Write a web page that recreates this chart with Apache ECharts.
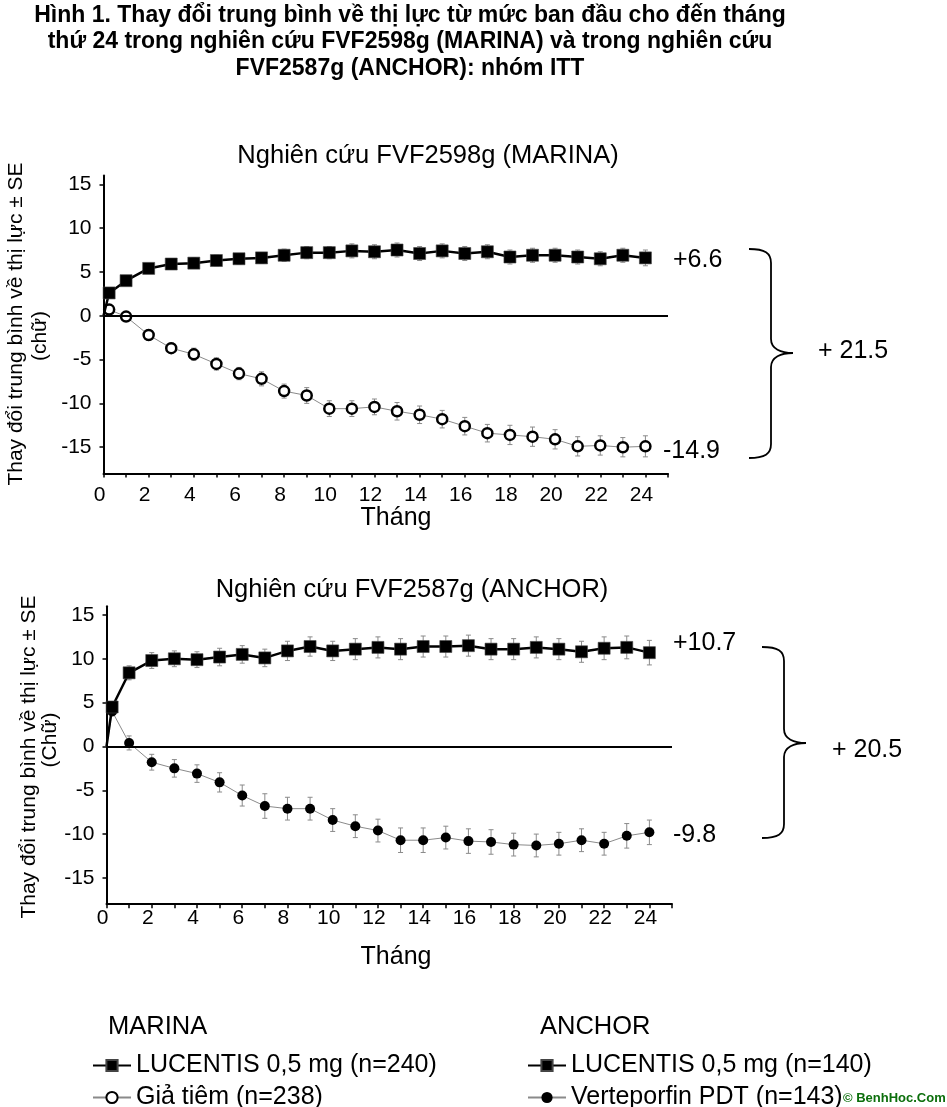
<!DOCTYPE html>
<html>
<head>
<meta charset="utf-8">
<script src="https://cdn.jsdelivr.net/npm/echarts@6/dist/echarts.min.js"></script>
<style>
  html, body { margin: 0; padding: 0; background: #fff; }
  #main { width: 947px; height: 1107px; }
</style>
</head>
<body>
<div id="main"></div>
<script>
// thời điểm đo (tháng): tuần 1 rồi từng tháng
var months = [0.25, 1, 2, 3, 4, 5, 6, 7, 8, 9, 10, 11, 12, 13, 14, 15, 16, 17, 18, 19, 20, 21, 22, 23, 24]

// MARINA
var marinaLucentis = [2.6, 4.0, 5.4, 5.9, 6.0, 6.3, 6.5, 6.6, 6.9, 7.2, 7.2, 7.4, 7.3, 7.5, 7.1, 7.4, 7.1, 7.3, 6.7, 6.9, 6.9, 6.7, 6.5, 6.9, 6.6]
var marinaLucentisSE = [0.4, 0.5, 0.5, 0.5, 0.6, 0.6, 0.6, 0.6, 0.7, 0.7, 0.7, 0.8, 0.8, 0.8, 0.8, 0.8, 0.8, 0.8, 0.8, 0.8, 0.8, 0.8, 0.8, 0.8, 0.9]
var marinaSham = [0.7, -0.1, -2.2, -3.7, -4.4, -5.5, -6.6, -7.2, -8.6, -9.1, -10.6, -10.6, -10.4, -10.9, -11.3, -11.8, -12.6, -13.4, -13.6, -13.8, -14.1, -14.9, -14.8, -15.0, -14.9]
var marinaShamSE = [0.4, 0.4, 0.6, 0.6, 0.7, 0.7, 0.7, 0.8, 0.8, 0.9, 0.9, 0.9, 0.9, 1.0, 1.0, 1.0, 1.0, 1.0, 1.1, 1.1, 1.1, 1.1, 1.1, 1.1, 1.2]

// ANCHOR
var anchorLucentis = [4.5, 8.4, 9.8, 10.0, 9.9, 10.2, 10.5, 10.1, 10.9, 11.4, 10.9, 11.1, 11.3, 11.1, 11.4, 11.4, 11.5, 11.1, 11.1, 11.3, 11.1, 10.8, 11.2, 11.3, 10.7]
var anchorLucentisSE = [0.6, 0.8, 0.9, 0.9, 0.9, 1.0, 1.0, 1.0, 1.1, 1.1, 1.1, 1.2, 1.2, 1.2, 1.2, 1.2, 1.2, 1.2, 1.2, 1.2, 1.2, 1.2, 1.3, 1.3, 1.4]
var anchorPdt = [4.0, 0.4, -1.8, -2.5, -3.1, -4.1, -5.6, -6.8, -7.1, -7.1, -8.4, -9.1, -9.6, -10.7, -10.7, -10.4, -10.8, -10.9, -11.2, -11.3, -11.1, -10.7, -11.1, -10.2, -9.8]
var anchorPdtSE = [0.5, 0.8, 0.9, 1.0, 1.0, 1.1, 1.2, 1.4, 1.3, 1.3, 1.3, 1.3, 1.3, 1.4, 1.4, 1.3, 1.4, 1.4, 1.3, 1.3, 1.3, 1.3, 1.3, 1.4, 1.4]

var yTicks = [-15, -10, -5, 0, 5, 10, 15]

var names = {
  marinaLuc: 'LUCENTIS 0,5 mg (n=240)',
  marinaSham: 'Giả tiêm (n=238)',
  anchorLuc: 'LUCENTIS 0,5 mg (n=140)',
  anchorPdt: 'Verteporfin PDT (n=143)',
}

var FONT = '"Liberation Sans", Arial, sans-serif'

function lineData(vals) {
  // điểm gốc (tháng 0, thay đổi 0) không vẽ ký hiệu
  var d = [{ value: [0, 0], symbol: 'none' }]
  months.forEach(function(m, i) {
    d.push([m, vals[i]])
  })
  return d
}

function errData(vals, se) {
  return months.map(function(m, i) {
    return [m, vals[i] - se[i], vals[i] + se[i]]
  })
}

function errSeries(idx, vals, se) {
  return {
    type: 'custom',
    xAxisIndex: idx,
    yAxisIndex: idx,
    z: 1,
    silent: true,
    renderItem: function(params, api) {
      var lo = api.coord([api.value(0), api.value(1)])
      var hi = api.coord([api.value(0), api.value(2)])
      var st = { stroke: '#8a8a8a', lineWidth: 1 }
      return {
        type: 'group',
        children: [
          { type: 'line', shape: { x1: lo[0], y1: lo[1], x2: hi[0], y2: hi[1] }, style: st },
          { type: 'line', shape: { x1: lo[0] - 2.5, y1: lo[1], x2: lo[0] + 2.5, y2: lo[1] }, style: st },
          { type: 'line', shape: { x1: hi[0] - 2.5, y1: hi[1], x2: hi[0] + 2.5, y2: hi[1] }, style: st },
        ],
      }
    },
    encode: { x: 0, y: [1, 2] },
    data: errData(vals, se),
  }
}

function lucSeries(idx, name, vals) {
  return {
    name: name,
    type: 'line',
    xAxisIndex: idx,
    yAxisIndex: idx,
    z: 4,
    showAllSymbol: true,
    symbol: 'rect',
    symbolSize: 12,
    lineStyle: { color: '#000', width: 2.5 },
    itemStyle: { color: '#000', borderColor: '#444', borderWidth: 0.6 },
    data: lineData(vals),
    markLine: {
      silent: true,
      symbol: ['none', 'none'],
      label: { show: false },
      lineStyle: { color: '#000', width: 2, type: 'solid' },
      data: [{ yAxis: 0 }],
    },
  }
}

function ctrlSeries(idx, name, vals, hollow) {
  return {
    name: name,
    type: 'line',
    xAxisIndex: idx,
    yAxisIndex: idx,
    z: 3,
    showAllSymbol: true,
    symbol: 'circle',
    symbolSize: 10,
    lineStyle: { color: '#8a8a8a', width: 1 },
    itemStyle: hollow
      ? { color: '#fff', borderColor: '#000', borderWidth: 2.5 }
      : { color: '#000', borderColor: '#000', borderWidth: 0 },
    data: lineData(vals),
  }
}

function xAxis(idx, labelMargin) {
  return {
    type: 'value',
    gridIndex: idx,
    min: 0,
    max: 25,
    interval: 1,
    axisLine: { onZero: false, lineStyle: { color: '#000', width: 2 } },
    axisTick: { show: true, length: 4, lineStyle: { color: '#000', width: 1.5 } },
    axisLabel: {
      color: '#000',
      fontSize: 21,
      fontFamily: FONT,
      margin: labelMargin,
      padding: [0, 8, 0, 0],
      formatter: function(v) {
        return v % 2 === 0 && v <= 24 ? String(v) : ''
      },
    },
    splitLine: { show: false },
  }
}

function yAxis(idx) {
  return {
    type: 'value',
    gridIndex: idx,
    min: -18,
    max: 16,
    axisLine: { show: true, onZero: false, lineStyle: { color: '#000', width: 2 } },
    axisTick: { show: true, length: 4, customValues: yTicks, lineStyle: { color: '#000', width: 1.5 } },
    axisLabel: { color: '#000', fontSize: 21, fontFamily: FONT, margin: 12, customValues: yTicks },
    splitLine: { show: false },
  }
}

function legendItem(name, left, top) {
  return {
    left: left,
    top: top,
    orient: 'horizontal',
    itemWidth: 38,
    itemHeight: 14,
    data: [name],
    textStyle: { fontSize: 25, color: '#000', fontFamily: FONT, lineHeight: 25 },
  }
}

function txt(text, x, y, size, opts) {
  opts = opts || {}
  return {
    type: 'text',
    x: x,
    y: y,
    rotation: opts.rotation || 0,
    z: 10,
    style: {
      text: text,
      fill: opts.color || '#000',
      font: (opts.bold ? 'bold ' : '') + size + 'px ' + FONT,
      textAlign: opts.align || 'center',
      textVerticalAlign: 'middle',
      lineHeight: opts.lineHeight,
      backgroundColor: opts.bg,
    },
  }
}

// dấu ngoặc nhọn bên phải, ghép từ đường cong và đoạn thẳng
function brace(x0, x1, xt, yTop, yMid, yBot) {
  var r = 14
  var st = { stroke: '#000', lineWidth: 1.8, fill: 'none' }
  function curve(a, b, c, d) {
    return {
      type: 'bezierCurve',
      z: 10,
      shape: { x1: a[0], y1: a[1], cpx1: b[0], cpy1: b[1], cpx2: c[0], cpy2: c[1], x2: d[0], y2: d[1] },
      style: st,
    }
  }
  function seg(a, b) {
    return { type: 'line', z: 10, shape: { x1: a[0], y1: a[1], x2: b[0], y2: b[1] }, style: st }
  }
  return [
    curve([x0, yTop], [x1 - 6, yTop], [x1, yTop + 4], [x1, yTop + r]),
    seg([x1, yTop + r], [x1, yMid - r]),
    curve([x1, yMid - r], [x1, yMid - 4], [xt - 12, yMid], [xt, yMid]),
    curve([xt, yMid], [xt - 12, yMid], [x1, yMid + 4], [x1, yMid + r]),
    seg([x1, yMid + r], [x1, yBot - r]),
    curve([x1, yBot - r], [x1, yBot - 4], [x1 - 6, yBot], [x0, yBot]),
  ]
}

var chart = echarts.init(document.getElementById('main'), null, { renderer: 'canvas' })

var graphics = [
  txt('Hình 1. Thay đổi trung bình về thị lực từ mức ban đầu cho đến tháng\nthứ 24 trong nghiên cứu FVF2598g (MARINA) và trong nghiên cứu\nFVF2587g (ANCHOR): nhóm ITT', 410, 42, 23, { bold: true, lineHeight: 26.5 }),
  txt('Nghiên cứu FVF2598g (MARINA)', 428, 156, 25.5),
  txt('Nghiên cứu FVF2587g (ANCHOR)', 412, 590, 25.5),
  txt('Thay đổi trung bình về thị lực ± SE', 16, 324, 21, { rotation: Math.PI / 2 }),
  txt('(chữ)', 40, 336, 21, { rotation: Math.PI / 2 }),
  txt('Thay đổi trung bình về thị lực ± SE', 29, 757, 21, { rotation: Math.PI / 2 }),
  txt('(Chữ)', 50, 740, 21, { rotation: Math.PI / 2 }),
  txt('Tháng', 396, 518, 25),
  txt('Tháng', 396, 957, 25),
  txt('+6.6', 673, 260, 25, { align: 'left' }),
  txt('-14.9', 663, 451, 25, { align: 'left' }),
  txt('+ 21.5', 818, 351, 25, { align: 'left' }),
  txt('+10.7', 673, 643, 25, { align: 'left' }),
  txt('-9.8', 673, 835, 25, { align: 'left' }),
  txt('+ 20.5', 832, 750, 25, { align: 'left' }),
  txt('MARINA', 108, 1027, 25.5, { align: 'left' }),
  txt('ANCHOR', 540, 1027, 25.5, { align: 'left' }),
  txt('© BenhHoc.Com', 843, 1098, 13, { align: 'left', color: '#0b6e0b', bold: true, bg: '#fff' }),
]
  .concat(brace(749, 771, 793, 249, 353, 458))
  .concat(brace(762, 784, 806, 647, 743, 838))

var option = {
  animation: false,
  backgroundColor: '#fff',
  textStyle: { fontFamily: FONT },
  grid: [
    { left: 103.5, top: 175.5, width: 564.5, height: 298 },
    { left: 106.5, top: 606.2, width: 565.5, height: 298 },
  ],
  xAxis: [xAxis(0, 11), xAxis(1, 4)],
  yAxis: [yAxis(0), yAxis(1)],
  legend: [
    legendItem(names.marinaLuc, 87, 1048),
    legendItem(names.marinaSham, 87, 1080),
    legendItem(names.anchorLuc, 522, 1048),
    legendItem(names.anchorPdt, 522, 1080),
  ],
  series: [
    errSeries(0, marinaSham, marinaShamSE),
    errSeries(0, marinaLucentis, marinaLucentisSE),
    ctrlSeries(0, names.marinaSham, marinaSham, true),
    lucSeries(0, names.marinaLuc, marinaLucentis),
    errSeries(1, anchorPdt, anchorPdtSE),
    errSeries(1, anchorLucentis, anchorLucentisSE),
    ctrlSeries(1, names.anchorPdt, anchorPdt, false),
    lucSeries(1, names.anchorLuc, anchorLucentis),
  ],
  graphic: graphics,
}

chart.setOption(option)
</script>
</body>
</html>
